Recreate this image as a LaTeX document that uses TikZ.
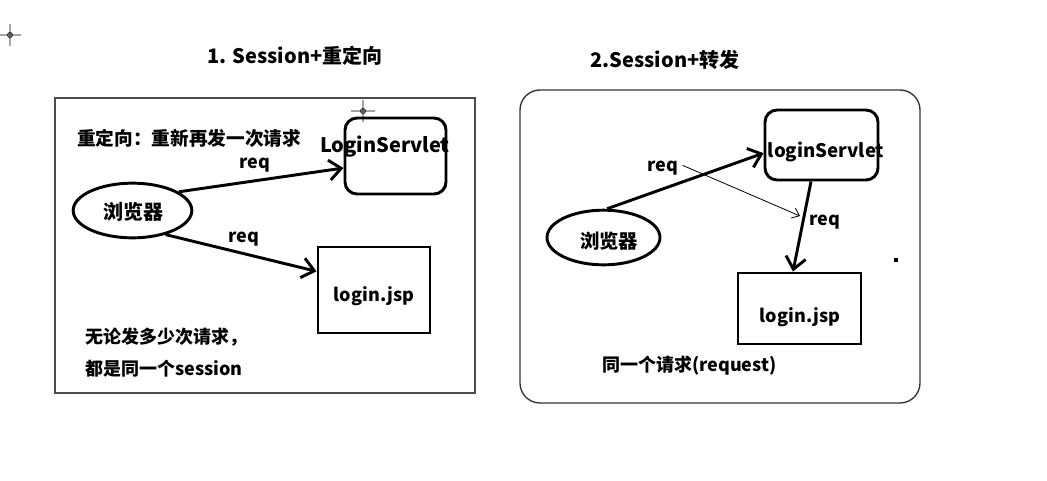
\documentclass[tikz,border=0pt]{standalone}
\usepackage{fontspec}
\setmainfont{Noto Sans CJK SC}
\usetikzlibrary{shapes.geometric,arrows.meta}
\tikzset{
  bx/.style={draw,line width=2.2pt,inner sep=0pt},
  arr/.style={line width=2.2pt,-{Straight Barb[length=9pt,width=15pt]}},
  tx/.style={font=\bfseries\fontsize{13.5}{15}\selectfont,inner sep=0pt},
  big/.style={font=\bfseries\fontsize{15}{17}\selectfont,inner sep=0pt},
  cross/.style={line width=0.6pt},
}
\begin{document}
\begin{tikzpicture}[x=0.75pt,y=-0.75pt]
\useasboundingbox (0,0) rectangle (1047,480);
% cursor marks
\draw[cross] (10,24) -- (10,46) (0,35) -- (21,35) (10,35) circle (2.5);
\draw[cross] (363,100) -- (363,122) (351,111) -- (375,111) (363,111) circle (2.5);
\fill (894,258) rectangle (898,262);

% 1. redirect
\node[big] (t1) at (295,56) {1. Session+重定向};
\draw[gray!60!black,line width=1pt] (55,98) rectangle (475,393);
\node[tx,font=\bfseries\fontsize{14}{16}\selectfont,anchor=west] (n1) at (77,138) {重定向：重新再发一次请求};
\node[bx,rounded corners=9pt,minimum width=75.75pt,minimum height=57pt] (ls1) at (395.5,156) {};
\node[big] (ls1t) at (385,147) {LoginServlet};
\node[draw,ellipse,line width=2.2pt,minimum width=89pt,minimum height=41pt,inner sep=0pt] (br1) at (132.5,210.5) {};
\node[big] (br1t) at (133,212) {浏览器};
\node[bx,minimum width=84pt,minimum height=64.5pt] (jsp1) at (374,290) {};
\node[tx] (jsp1t) at (374,296) {login.jsp};
\draw[arr] (br1.22) -- node[tx,above,yshift=5pt,xshift=-5pt] (rq1) {req} (ls1.193);
\draw[arr] (br1.-36) -- node[tx,above,yshift=4pt,xshift=2pt] (rq2) {req} (jsp1.162);
\node[tx,anchor=west] (n2) at (85,337) {无论发多少次请求，};
\node[tx,anchor=west] (n3) at (85,369) {都是同一个session};

% 2. forward
\node[big] (t2) at (665,60) {2.Session+转发};
\draw[black!80,line width=1pt,rounded corners=15pt] (520,90) rectangle (920,403);
\node[bx,rounded corners=9pt,minimum width=84.75pt,minimum height=52.5pt] (ls2) at (821.5,145) {};
\node[tx,font=\bfseries\fontsize{14}{16}\selectfont] (ls2t) at (826,152) {loginServlet};
\node[draw,ellipse,line width=2.2pt,minimum width=84.75pt,minimum height=41pt,inner sep=0pt] (br2) at (603.5,237.5) {};
\node[tx,font=\bfseries\fontsize{14.5}{16}\selectfont] (br2t) at (609,241) {浏览器};
\node[bx,minimum width=92.25pt,minimum height=53.25pt] (jsp2) at (799.5,308.5) {};
\node[tx] (jsp2t) at (800,317) {login.jsp};
\draw[arr] (br2.83) -- (ls2.188);
\node[tx] (rq3) at (663,168) {req};
\coordinate (fwd) at (800,216);
\draw[line width=0.6pt,-{Straight Barb[length=5pt,width=8pt]}] (rq3.east) ++(3pt,2pt) -- (fwd);
\draw[arr] (ls2.-106) -- (jsp2.100);
\node[tx] (rq4) at (825,222) {req};
\node[tx,anchor=west] (n4) at (602,366) {同一个请求(request)};
\end{tikzpicture}
\end{document}
